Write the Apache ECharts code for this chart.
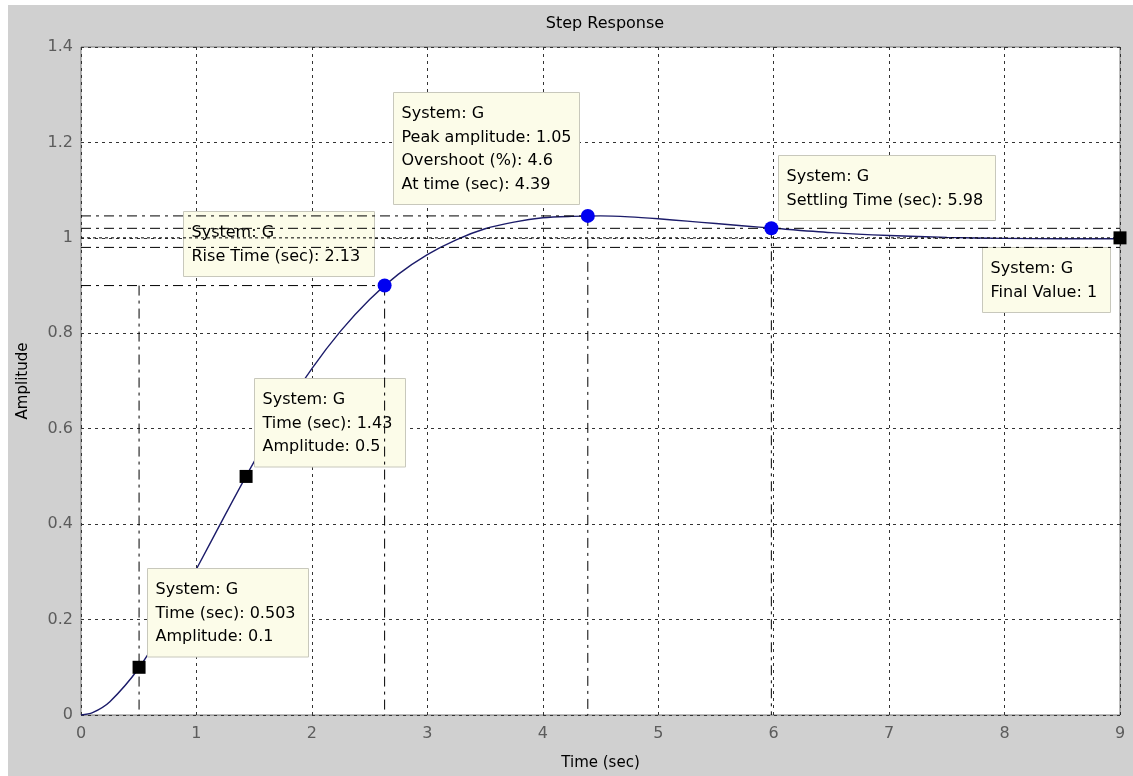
<!DOCTYPE html>
<html>
<head>
<meta charset="utf-8">
<title>Step Response</title>
<script src="https://cdn.jsdelivr.net/npm/echarts@6/dist/echarts.min.js"></script>
<style>
  html, body { margin: 0; padding: 0; background: #ffffff; }
  #chart { position: absolute; left: 8px; top: 5px; width: 1125px; height: 771px; }
</style>
</head>
<body>
<div id="chart"></div>
<script>
// Step response of system G
const timeSec = [0, 0.1, 0.25, 0.5, 0.75, 1, 1.25, 1.5, 1.75, 2, 2.25, 2.5, 2.75, 3, 3.25, 3.5, 3.75, 4, 4.25, 4.5, 4.75, 5, 5.25, 5.5, 5.75, 6, 6.5, 7, 7.5, 8, 8.5, 9];
const amplitude = [0, 0.005, 0.028, 0.098, 0.195, 0.306, 0.420, 0.531, 0.634, 0.726, 0.805, 0.871, 0.924, 0.965, 0.996, 1.019, 1.033, 1.042, 1.045, 1.046, 1.044, 1.040, 1.035, 1.030, 1.025, 1.020, 1.011, 1.005, 1.001, 0.999, 0.998, 0.998];

// Characteristic points [time, amplitude]
const tenPercentPoint = [0.503, 0.1];
const halfPoint = [1.43, 0.5];
const riseEndPoint = [2.63, 0.9];
const peakPoint = [4.39, 1.046];
const settlePoint = [5.98, 1.02];
const finalPoint = [9, 1];
const settleBand = [0.98, 1.02];

// Axis ranges and ticks
const xTicks = [0, 1, 2, 3, 4, 5, 6, 7, 8, 9];
const yTicks = [0, 0.2, 0.4, 0.6, 0.8, 1, 1.2, 1.4];

// Data tip texts
const tipTenPercent = ['System: G', 'Time (sec): 0.503', 'Amplitude: 0.1'];
const tipHalf = ['System: G', 'Time (sec): 1.43', 'Amplitude: 0.5'];
const tipRise = ['System: G', 'Rise Time (sec): 2.13'];
const tipPeak = ['System: G', 'Peak amplitude: 1.05', 'Overshoot (%): 4.6', 'At time (sec): 4.39'];
const tipSettle = ['System: G', 'Settling Time (sec): 5.98'];
const tipFinal = ['System: G', 'Final Value: 1'];

const FONT = '"DejaVu Sans", "Liberation Sans", sans-serif';
const xMin = xTicks[0], xMax = xTicks[xTicks.length - 1];
const yMin = yTicks[0], yMax = yTicks[yTicks.length - 1];

const curve = timeSec.map((t, i) => [t, amplitude[i]]);

// Reference line segments for the characteristics
const dashDot = [10, 5, 3, 5];
const segments = [
  { pts: [[xMin, riseEndPoint[1]], riseEndPoint], type: dashDot },
  { pts: [[tenPercentPoint[0], riseEndPoint[1]], [tenPercentPoint[0], yMin]], type: dashDot },
  { pts: [riseEndPoint, [riseEndPoint[0], yMin]], type: dashDot },
  { pts: [[xMin, peakPoint[1]], peakPoint], type: dashDot },
  { pts: [peakPoint, [peakPoint[0], yMin]], type: dashDot },
  { pts: [[xMin, settleBand[1]], [xMax, settleBand[1]]], type: dashDot },
  { pts: [[xMin, settleBand[0]], [xMax, settleBand[0]]], type: dashDot },
  { pts: [settlePoint, [settlePoint[0], yMin]], type: dashDot },
  { pts: [[xMin, finalPoint[1]], finalPoint], type: [3, 3] }
];

const lineSeries = segments.map(s => ({
  type: 'line',
  data: s.pts,
  symbol: 'none',
  silent: true,
  animation: false,
  z: 4,
  lineStyle: { color: '#000', width: 1, type: s.type }
}));

// Data tips: anchor point, text lines, box offset from the anchor and box width (px)
const tips = [
  { at: tenPercentPoint, lines: tipTenPercent, dx: 8, dy: -99, w: 161 },
  { at: halfPoint, lines: tipHalf, dx: 8, dy: -98, w: 151 },
  { at: riseEndPoint, lines: tipRise, dx: -202, dy: -75, w: 191 },
  { at: peakPoint, lines: tipPeak, dx: -195, dy: -124, w: 186 },
  { at: settlePoint, lines: tipSettle, dx: 7, dy: -73, w: 217 },
  { at: finalPoint, lines: tipFinal, dx: -138, dy: 9, w: 128 }
];
const LINE_H = 23.5;

const tipSeries = {
  type: 'custom',
  silent: true,
  animation: false,
  z: 3,
  clip: false,
  data: tips.map(t => t.at),
  renderItem: (params, api) => {
    const t = tips[params.dataIndex];
    const p = api.coord([api.value(0), api.value(1)]);
    const x = Math.round(p[0] + t.dx) + 0.5;
    const y = Math.round(p[1] + t.dy) + 0.5;
    const h = t.lines.length * LINE_H + 18;
    return {
      type: 'group',
      children: [
        {
          type: 'rect',
          shape: { x: x, y: y, width: t.w, height: h },
          style: { fill: '#fcfce9', stroke: '#c8c8bc', lineWidth: 1 }
        },
        {
          type: 'text',
          style: {
            x: x + 8, y: y + 10,
            text: t.lines.join('\n'),
            fill: '#000',
            fontFamily: FONT,
            fontSize: 16,
            lineHeight: LINE_H,
            align: 'left',
            verticalAlign: 'top'
          }
        }
      ]
    };
  }
};

const chart = echarts.init(document.getElementById('chart'), null, { renderer: 'canvas' });
chart.setOption({
  backgroundColor: '#d0d0d0',
  animation: false,
  title: {
    text: 'Step Response',
    left: 592,
    top: 6,
    textAlign: 'center',
    textStyle: { fontFamily: FONT, fontSize: 16, fontWeight: 'normal', color: '#000' }
  },
  grid: {
    left: 72, top: 42, width: 1040, height: 668,
    show: true, backgroundColor: '#ffffff', borderColor: '#7a7a7a', borderWidth: 1
  },
  xAxis: {
    type: 'value', min: xMin, max: xMax, interval: 1,
    name: 'Time (sec)', nameLocation: 'middle', nameGap: 41,
    nameTextStyle: { fontFamily: FONT, fontSize: 15, color: '#000' },
    axisLine: { show: false }, axisTick: { show: false },
    axisLabel: { fontFamily: FONT, fontSize: 16, color: '#5c5c5c', margin: 11 },
    splitLine: { show: true, lineStyle: { color: '#333', width: 1, type: [3, 4] } }
  },
  yAxis: {
    type: 'value', min: yMin, max: yMax, interval: 0.2,
    name: 'Amplitude', nameLocation: 'middle', nameGap: 50, nameRotate: 90,
    nameTextStyle: { fontFamily: FONT, fontSize: 15, color: '#000' },
    axisLine: { show: false }, axisTick: { show: false },
    axisLabel: { fontFamily: FONT, fontSize: 16, color: '#5c5c5c', margin: 8,
      formatter: v => (v === 0 ? '0' : (Math.round(v * 10) / 10).toString()) },
    splitLine: { show: true, lineStyle: { color: '#333', width: 1, type: [3, 4] } }
  },
  series: [
    {
      type: 'line',
      data: curve,
      symbol: 'none',
      smooth: 0.3,
      silent: true,
      z: 1,
      lineStyle: { color: '#1c1c6a', width: 1.4 }
    },
    tipSeries,
    ...lineSeries,
    {
      type: 'scatter',
      symbol: 'rect',
      symbolSize: 13,
      clip: false,
      silent: true,
      z: 5,
      itemStyle: { color: '#000', opacity: 1 },
      data: [tenPercentPoint, halfPoint, finalPoint]
    },
    {
      type: 'scatter',
      symbol: 'circle',
      symbolSize: 14,
      clip: false,
      silent: true,
      z: 5,
      itemStyle: { color: '#0000f0', opacity: 1 },
      data: [riseEndPoint, peakPoint, settlePoint]
    }
  ]
});
</script>
</body>
</html>
